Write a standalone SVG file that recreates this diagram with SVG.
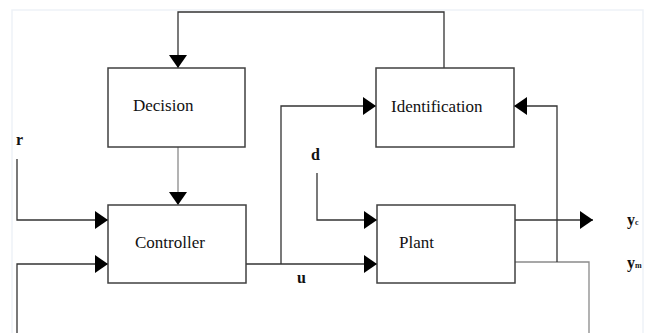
<svg xmlns="http://www.w3.org/2000/svg" width="647" height="333" viewBox="0 0 647 333">
<style>
.box{fill:#fff;stroke:#404040;stroke-width:1.5}
.lbl{font-size:17px;fill:#111}
.sig{font-size:16px;font-weight:bold;fill:#111}
.c{fill:none;stroke:#333;stroke-width:1.3}
.g{fill:none;stroke:#8a8a8a;stroke-width:1.3}
</style>
<defs>
<marker id="ah" markerUnits="userSpaceOnUse" markerWidth="13" markerHeight="18" refX="13" refY="9" orient="auto">
<path d="M0,0 L13,9 L0,18 z" fill="#000"/>
</marker>
</defs>
<rect x="0" y="0" width="647" height="333" fill="#fff"/>
<rect x="12" y="10" width="631" height="330" fill="#fff" stroke="#eef2f7" stroke-width="1.5"/>
<g id="connectors">
<path class="c" d="M444,68 V12 H178 V68" marker-end="url(#ah)"/>
<path class="g" d="M178,147 V205" marker-end="url(#ah)"/>
<path class="c" d="M17,159 V220 H108" marker-end="url(#ah)"/>
<path class="c" d="M17,333 V264 H108" marker-end="url(#ah)"/>
<path class="c" d="M245,264 H377" marker-end="url(#ah)"/>
<path class="c" d="M281,264 V106 H376" marker-end="url(#ah)"/>
<path class="c" d="M317,173 V220 H377" marker-end="url(#ah)"/>
<path class="c" d="M515,220 H593" marker-end="url(#ah)"/>
<path class="g" d="M515,262 H589 V333"/>
<path class="c" d="M557,262 V106 H514" marker-end="url(#ah)"/>
</g>
<g font-family="'Liberation Serif', 'DejaVu Serif', serif">
<g id="decision"><rect class="box" x="108" y="68" width="137" height="79"/><text class="lbl" x="133" y="111">Decision</text></g>
<g id="identification"><rect class="box" x="376" y="68" width="138" height="79"/><text class="lbl" x="391" y="112">Identification</text></g>
<g id="controller"><rect class="box" x="108" y="205" width="138" height="78"/><text class="lbl" x="135" y="248">Controller</text></g>
<g id="plant"><rect class="box" x="377" y="205" width="138" height="78"/><text class="lbl" x="399" y="248">Plant</text></g>
<g id="labels">
<text class="sig" x="16" y="145">r</text>
<text class="sig" x="311" y="160">d</text>
<text class="sig" x="297" y="283">u</text>
<text class="sig" x="627" y="225">y<tspan font-size="8">c</tspan></text>
<text class="sig" x="627" y="268">y<tspan font-size="8">m</tspan></text>
</g>
</g>
</svg>
